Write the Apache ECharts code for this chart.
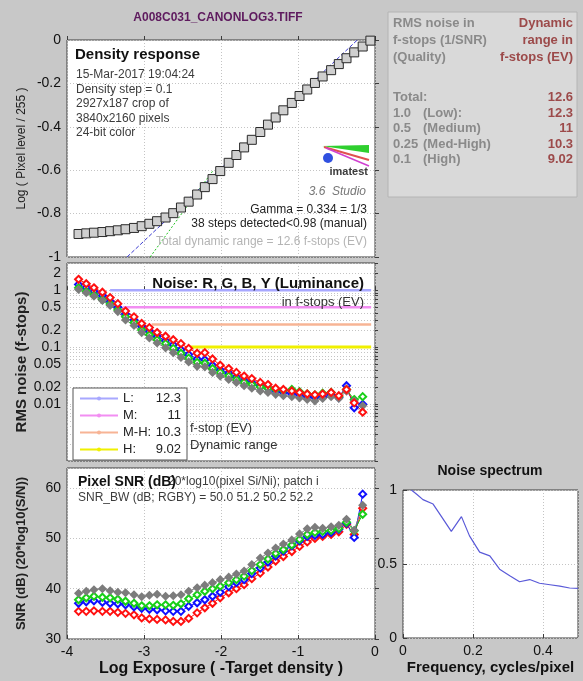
<!DOCTYPE html>
<html>
<head>
<meta charset="utf-8">
<script src="https://cdn.jsdelivr.net/npm/echarts@6/dist/echarts.min.js"></script>
<style>
  html, body { margin: 0; padding: 0; background: #c8c8c8; }
  #chart { width: 583px; height: 681px; }
</style>
</head>
<body>
<div id="chart"></div>
<script>
// patch positions (log exposure = -target density)
const logExposure = [-3.85, -3.75, -3.65, -3.54, -3.44, -3.34, -3.24, -3.13, -3.03, -2.93,
  -2.83, -2.72, -2.62, -2.52, -2.42, -2.31, -2.21, -2.11, -2.01, -1.90,
  -1.80, -1.70, -1.60, -1.49, -1.39, -1.29, -1.19, -1.08, -0.98, -0.88,
  -0.78, -0.68, -0.57, -0.47, -0.37, -0.27, -0.16, -0.06];
// log10(pixel level / 255)
const pixelLevel = [-0.894, -0.891, -0.888, -0.885, -0.881, -0.877, -0.872, -0.866, -0.858, -0.847,
  -0.835, -0.818, -0.798, -0.772, -0.745, -0.712, -0.678, -0.641, -0.604, -0.566,
  -0.530, -0.495, -0.460, -0.424, -0.390, -0.357, -0.324, -0.290, -0.258, -0.228,
  -0.198, -0.168, -0.139, -0.111, -0.084, -0.057, -0.030, -0.003];
const gammaFit = [[-3.22, -1], [-0.2, 0.01]];
const shoulderFit = [[-2.92, -1], [-2.1, -0.6]];

// RMS noise in f-stops (first 37 patches)
const noiseR = [1.55, 1.3, 1.1, 0.92, 0.74, 0.58, 0.43, 0.34, 0.26, 0.22,
  0.18, 0.155, 0.135, 0.115, 0.095, 0.078, 0.08, 0.062, 0.048, 0.042,
  0.036, 0.031, 0.028, 0.024, 0.022, 0.019, 0.018, 0.017, 0.016, 0.015,
  0.0145, 0.015, 0.016, 0.014, 0.018, 0.0105, 0.0072];
const noiseG = [1.1, 0.95, 0.82, 0.68, 0.57, 0.45, 0.34, 0.27, 0.2, 0.165,
  0.135, 0.115, 0.095, 0.078, 0.064, 0.054, 0.052, 0.042, 0.036, 0.031,
  0.027, 0.024, 0.022, 0.02, 0.019, 0.018, 0.0175, 0.018, 0.0165, 0.015,
  0.0145, 0.0155, 0.016, 0.0135, 0.018, 0.012, 0.0135];
const noiseB = [1.26, 1.1, 0.95, 0.8, 0.64, 0.5, 0.38, 0.3, 0.23, 0.19,
  0.155, 0.13, 0.11, 0.09, 0.074, 0.062, 0.06, 0.048, 0.04, 0.035,
  0.03, 0.026, 0.024, 0.021, 0.019, 0.017, 0.016, 0.015, 0.0145, 0.0135,
  0.013, 0.0135, 0.0145, 0.013, 0.021, 0.0086, 0.0099];
const noiseY = [1.03, 0.9, 0.78, 0.66, 0.54, 0.42, 0.3, 0.24, 0.18, 0.145,
  0.118, 0.097, 0.08, 0.066, 0.055, 0.046, 0.045, 0.036, 0.031, 0.027,
  0.024, 0.021, 0.019, 0.017, 0.016, 0.0148, 0.014, 0.0135, 0.0128, 0.012,
  0.0113, 0.0125, 0.0135, 0.0125, 0.0169, 0.0113, 0.0093];

// quality thresholds and dynamic range
const drNames = ['L:', 'M:', 'M-H:', 'H:'];
const drValues = ['12.3', '11', '10.3', '9.02'];
const drNoise = [1, 0.5, 0.25, 0.1];
const drStart = [-3.44, -3.27, -2.9, -2.44];
const drEnd = -0.05;
const drColors = ['#a8a8ff', '#f28ef2', '#f7b495', '#f0f000'];

// pixel SNR dB
const snrR = [35.5, 35.5, 35.6, 35.5, 35.5, 35.3, 35.1, 34.8, 34.2, 34.0,
  33.9, 33.8, 33.5, 33.5, 34.1, 35.2, 36.2, 37.1, 38.2, 39.2,
  40.0, 40.8, 42.0, 43.1, 44.3, 45.5, 46.4, 47.4, 48.4, 49.3,
  50.0, 50.4, 50.8, 51.3, 52.8, 50.8, 56.0];
const snrG = [37.8, 38.2, 38.5, 38.3, 38.2, 37.9, 37.5, 37.1, 36.6, 36.6,
  36.8, 36.8, 36.7, 37.0, 38.0, 38.8, 39.5, 40.0, 40.5, 41.2,
  41.8, 42.5, 43.6, 44.8, 45.9, 47.0, 47.8, 48.7, 49.8, 50.8,
  51.2, 51.4, 51.6, 52.0, 53.2, 51.5, 54.8];
const snrB = [37.1, 37.4, 37.6, 37.3, 37.1, 37.0, 36.8, 36.4, 36.1, 35.9,
  35.8, 35.6, 35.5, 35.5, 36.5, 37.2, 37.8, 38.5, 39.3, 40.4,
  41.2, 41.8, 43.0, 44.1, 45.3, 46.5, 47.5, 48.5, 49.5, 50.4,
  50.6, 50.8, 51.2, 51.8, 53.0, 50.2, 58.8];
const snrY = [39.1, 39.5, 39.8, 40.0, 39.6, 39.3, 39.2, 38.8, 38.4, 38.7,
  38.9, 38.5, 38.6, 38.8, 39.5, 40.2, 40.7, 41.2, 41.8, 42.3,
  42.9, 43.5, 44.8, 46.1, 47.1, 48.1, 48.9, 49.7, 50.9, 51.9,
  52.2, 52.0, 52.3, 52.6, 53.8, 51.6, 56.6];

// noise spectrum
const freq = [0.024, 0.04, 0.057, 0.086, 0.11, 0.138, 0.167, 0.19, 0.219, 0.248,
  0.276, 0.305, 0.333, 0.362, 0.39, 0.42, 0.448, 0.476, 0.5];
const spectrum = [1.0, 0.97, 0.935, 0.905, 0.82, 0.72, 0.82, 0.69, 0.58, 0.555,
  0.465, 0.42, 0.38, 0.395, 0.37, 0.36, 0.35, 0.338, 0.335];

// log axis ticks for the noise plot
const noiseTickLabels = [2, 1, 0.5, 0.2, 0.1, 0.05, 0.02, 0.01];
const noiseMinorTicks = [0.001, 0.002, 0.003, 0.004, 0.005, 0.006, 0.007, 0.008, 0.009,
  0.01, 0.02, 0.03, 0.04, 0.05, 0.06, 0.07, 0.08, 0.09,
  0.1, 0.2, 0.3, 0.4, 0.5, 0.6, 0.7, 0.8, 0.9, 1, 2, 3];

const FONT = 'Liberation Sans, Arial, sans-serif';
const lg = v => Math.log10(v);

function pairs(xs, ys, fn) {
  return ys.map((y, i) => [xs[i], fn ? fn(y) : y]);
}

const dotted = { color: '#c4c4c4', type: [1, 2], width: 1 };
const gridLine = { show: true, lineStyle: dotted };
const tick = { show: true, inside: true, length: 4, lineStyle: { color: '#3c3c3c' } };
const lbl = { fontSize: 14, color: '#111', fontFamily: FONT, margin: 6 };

function xAx(grid, showLabel, extra) {
  return Object.assign({
    gridIndex: grid, type: 'value', min: -4, max: 0, interval: 1,
    axisLine: { show: false }, axisTick: tick, splitLine: gridLine,
    axisLabel: Object.assign({ show: showLabel }, lbl)
  }, extra || {});
}

function traceSeries(name, grid, xs, ys, color, fn, filled) {
  return {
    name: name, type: 'line', xAxisIndex: grid, yAxisIndex: grid,
    data: pairs(xs, ys, fn),
    symbol: filled ? 'diamond' : 'emptyDiamond', symbolSize: 7,
    itemStyle: { color: color, borderColor: color, borderWidth: 1.5 },
    lineStyle: { color: color, width: 1 },
    animation: false, silent: true
  };
}

const nx = logExposure.slice(0, 37);

const series = [
  {
    name: 'density', type: 'scatter', xAxisIndex: 0, yAxisIndex: 0,
    data: pairs(logExposure, pixelLevel),
    symbol: 'rect', symbolSize: 9,
    itemStyle: { color: '#cfcfcf', borderColor: '#2a2a2a', borderWidth: 1, opacity: 1 },
    z: 5
  },
  {
    name: 'gammaFit', type: 'line', xAxisIndex: 0, yAxisIndex: 0, data: gammaFit,
    symbol: 'none', lineStyle: { color: '#3a3ad0', width: 1, type: [4, 2] }, z: 3
  },
  {
    name: 'shoulderFit', type: 'line', xAxisIndex: 0, yAxisIndex: 0, data: shoulderFit,
    symbol: 'none', lineStyle: { color: '#22c022', width: 1, type: [2, 2] }, z: 3
  }
];

drNames.forEach((n, i) => {
  series.push({
    name: n, type: 'line', xAxisIndex: 1, yAxisIndex: 1,
    data: [[drStart[i], lg(drNoise[i])], [drEnd, lg(drNoise[i])]],
    symbol: 'circle', symbolSize: 3, showSymbol: false,
    itemStyle: { color: drColors[i] },
    lineStyle: { color: drColors[i], width: i === 3 ? 3 : 2.5 },
    z: 2, silent: true
  });
});

series.push(traceSeries('nB', 1, nx, noiseB, '#1010ff', lg));
series.push(traceSeries('nG', 1, nx, noiseG, '#18d018', lg));
series.push(traceSeries('nY', 1, nx, noiseY, '#7c7c7c', lg, true));
series.push(traceSeries('nR', 1, nx, noiseR, '#ff1010', lg));

series.push(traceSeries('sR', 2, nx, snrR, '#ff1010'));
series.push(traceSeries('sB', 2, nx, snrB, '#1010ff'));
series.push(traceSeries('sG', 2, nx, snrG, '#18d018'));
series.push(traceSeries('sY', 2, nx, snrY, '#7c7c7c', null, true));

series.push({
  name: 'spectrum', type: 'line', xAxisIndex: 3, yAxisIndex: 3,
  data: pairs(freq, spectrum), symbol: 'none',
  lineStyle: { color: '#5a5ad8', width: 1.2 }
});

function txt(x, y, text, font, fill, align) {
  return {
    type: 'text', x: x, y: y, z: 100,
    style: { text: text, font: font, fill: fill || '#333', align: align || 'left', verticalAlign: 'middle' }
  };
}

const gray = '#8a8a8a', red = '#9c4a4a';
const rb = 'bold 13px ' + FONT;

const graphics = [
  txt(218, 18, 'A008C031_CANONLOG3.TIFF', 'bold 12px ' + FONT, '#5e1a5e', 'center'),
  // density panel notes
  txt(75, 55, 'Density response', 'bold 15px ' + FONT, '#111'),
  txt(76, 75, '15-Mar-2017 19:04:24', '12px ' + FONT, '#3c3c3c'),
  txt(76, 90, 'Density step = 0.1', '12px ' + FONT, '#3c3c3c'),
  txt(76, 104, '2927x187 crop of', '12px ' + FONT, '#3c3c3c'),
  txt(76, 119, '3840x2160 pixels', '12px ' + FONT, '#3c3c3c'),
  txt(76, 133, '24-bit color', '12px ' + FONT, '#3c3c3c'),
  txt(366, 192, '3.6  Studio', 'italic 12px ' + FONT, '#777', 'right'),
  txt(367, 210, 'Gamma = 0.334 = 1/3', '12px ' + FONT, '#222', 'right'),
  txt(367, 224, '38 steps detected<0.98 (manual)', '12px ' + FONT, '#222', 'right'),
  txt(367, 242, 'Total dynamic range = 12.6 f-stops (EV)', '12px ' + FONT, '#b4b4b4', 'right'),
  // imatest logo
  { type: 'polygon', z: 100, shape: { points: [[322, 146], [369, 145], [369, 153]] }, style: { fill: '#2fcf2f' } },
  { type: 'polyline', z: 100, shape: { points: [[324, 147], [369, 160]] }, style: { stroke: '#e05050', lineWidth: 2 } },
  { type: 'polyline', z: 100, shape: { points: [[326, 148], [369, 166]] }, style: { stroke: '#d040d0', lineWidth: 1.5 } },
  { type: 'circle', z: 101, shape: { cx: 328, cy: 158, r: 5 }, style: { fill: '#3050e0' } },
  txt(368, 172, 'imatest', 'bold 11px ' + FONT, '#3c3c3c', 'right'),
  // noise panel notes
  txt(364, 284, 'Noise: R, G, B, Y (Luminance)', 'bold 15px ' + FONT, '#111', 'right'),
  txt(364, 302, 'in f-stops (EV)', '13px ' + FONT, '#333', 'right'),
  txt(190, 428, 'f-stop (EV)', '13px ' + FONT, '#333'),
  txt(190, 445, 'Dynamic range', '13px ' + FONT, '#333'),
  // SNR panel notes
  txt(168, 482, '20*log10(pixel Si/Ni); patch i', '12px ' + FONT, '#3c3c3c'),
  txt(78, 482, 'Pixel SNR (dB)', 'bold 14px ' + FONT, '#111'),
  txt(78, 498, 'SNR_BW (dB; RGBY) = 50.0 51.2 50.2 52.2', '12px ' + FONT, '#3c3c3c'),
  txt(490, 471, 'Noise spectrum', 'bold 14px ' + FONT, '#111', 'center'),
  // summary box
  { type: 'rect', z: 90, shape: { x: 388, y: 12, width: 189, height: 185 }, style: { fill: '#d9d9d9', stroke: '#b4b4b4', lineWidth: 1 } },
  txt(393, 23, 'RMS noise in', rb, gray),
  txt(393, 40, 'f-stops (1/SNR)', rb, gray),
  txt(393, 57, '(Quality)', rb, gray),
  txt(573, 23, 'Dynamic', rb, red, 'right'),
  txt(573, 40, 'range in', rb, red, 'right'),
  txt(573, 57, 'f-stops (EV)', rb, red, 'right'),
  txt(393, 97, 'Total:', rb, gray),
  txt(573, 97, '12.6', rb, red, 'right')
];

const boxRows = [['1.0', '(Low):'], ['0.5', '(Medium)'], ['0.25', '(Med-High)'], ['0.1', '(High)']];
boxRows.forEach((r, i) => {
  const y = 113 + i * 15.5;
  graphics.push(txt(393, y, r[0], rb, gray));
  graphics.push(txt(423, y, r[1], rb, gray));
  graphics.push(txt(573, y, drValues[i], rb, red, 'right'));
});

const chart = echarts.init(document.getElementById('chart'), null, { renderer: 'canvas' });

chart.setOption({
  animation: false,
  backgroundColor: '#c8c8c8',
  textStyle: { fontFamily: FONT },
  grid: [
    { left: 67, top: 40, width: 308, height: 217 },
    { left: 67, top: 263, width: 308, height: 198 },
    { left: 67, top: 468, width: 308, height: 171 },
    { left: 403, top: 490, width: 175, height: 148 }
  ].map(g => Object.assign(g, { show: true, backgroundColor: '#fff', borderColor: '#3c3c3c', borderWidth: 1 })),
  xAxis: [
    xAx(0, false),
    xAx(1, false),
    xAx(2, true, {
      name: 'Log Exposure ( -Target density )', nameLocation: 'middle', nameGap: 22,
      nameTextStyle: { fontSize: 16, fontWeight: 'bold', color: '#111', fontFamily: FONT }
    }),
    {
      gridIndex: 3, type: 'value', min: 0, max: 0.5, interval: 0.2,
      axisLine: { show: false }, axisTick: tick, splitLine: gridLine,
      axisLabel: Object.assign({ showMaxLabel: false }, lbl),
      name: 'Frequency, cycles/pixel', nameLocation: 'middle', nameGap: 22,
      nameTextStyle: { fontSize: 15, fontWeight: 'bold', color: '#111', fontFamily: FONT }
    }
  ],
  yAxis: [
    {
      gridIndex: 0, type: 'value', min: -1, max: 0, interval: 0.2,
      axisLine: { show: false }, axisTick: tick, splitLine: gridLine, axisLabel: lbl,
      name: 'Log ( Pixel level / 255 )', nameLocation: 'middle', nameGap: 39, nameMoveOverlap: false,
      nameTextStyle: { fontSize: 12, color: '#222', fontFamily: FONT }
    },
    {
      gridIndex: 1, type: 'value', min: lg(0.001), max: lg(3),
      axisLine: { show: false },
      axisTick: Object.assign({}, tick, { length: 3, customValues: noiseMinorTicks.map(lg) }),
      splitLine: gridLine,
      axisLabel: Object.assign({}, lbl, {
        customValues: noiseTickLabels.map(lg),
        formatter: v => String(+Math.pow(10, v).toPrecision(2))
      }),
      name: 'RMS noise (f-stops)', nameLocation: 'middle', nameGap: 38, nameMoveOverlap: false,
      nameTextStyle: { fontSize: 15, fontWeight: 'bold', color: '#222', fontFamily: FONT }
    },
    {
      gridIndex: 2, type: 'value', min: 30, max: 64, interval: 10,
      axisLine: { show: false }, axisTick: tick, splitLine: gridLine,
      axisLabel: Object.assign({ showMaxLabel: false }, lbl),
      name: 'SNR (dB) (20*log10(S/N))', nameLocation: 'middle', nameGap: 39, nameMoveOverlap: false,
      nameTextStyle: { fontSize: 13, fontWeight: 'bold', color: '#222', fontFamily: FONT }
    },
    {
      gridIndex: 3, type: 'value', min: 0, max: 1, interval: 0.5,
      axisLine: { show: false }, axisTick: tick, splitLine: gridLine, axisLabel: lbl
    }
  ],
  legend: {
    data: drNames,
    left: 73, top: 388, orient: 'vertical',
    itemWidth: 38, itemHeight: 5, itemGap: 4,
    padding: [4, 6, 4, 6],
    backgroundColor: '#fff', borderColor: '#555', borderWidth: 1,
    selectedMode: false,
    formatter: name => '{n|' + name + '}{v|' + drValues[drNames.indexOf(name)] + '}',
    textStyle: {
      fontSize: 13, color: '#222', fontFamily: FONT, lineHeight: 13,
      rich: { n: { width: 30, fontSize: 13, fontFamily: FONT }, v: { width: 28, align: 'right', fontSize: 13, fontFamily: FONT } }
    }
  },
  graphic: graphics,
  series: series
});
</script>
</body>
</html>
